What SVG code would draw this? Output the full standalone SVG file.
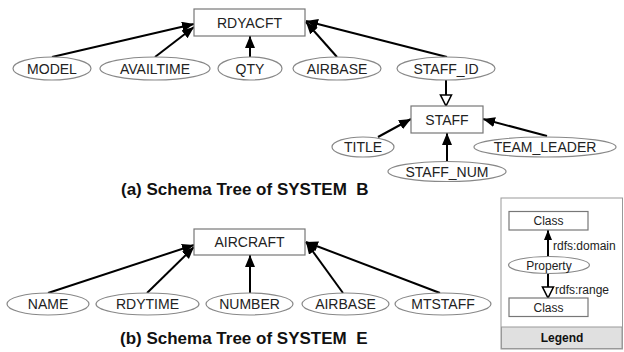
<svg xmlns="http://www.w3.org/2000/svg" width="624" height="352" viewBox="0 0 624 352">
<defs>
<marker id="ah" markerUnits="userSpaceOnUse" markerWidth="13" markerHeight="11" refX="12" refY="5" orient="auto">
<path d="M0,0 L12,5 L0,10 z" fill="#000"/>
</marker>
<marker id="ahs" markerUnits="userSpaceOnUse" markerWidth="11" markerHeight="9" refX="10" refY="4" orient="auto">
<path d="M0,0 L10,4 L0,8 z" fill="#000"/>
</marker>
<marker id="oh" markerUnits="userSpaceOnUse" markerWidth="14" markerHeight="14" refX="12" refY="6.5" orient="auto">
<path d="M1,1 L12,6.5 L1,12 z" fill="#fff" stroke="#000" stroke-width="1.6"/>
</marker>
</defs>
<style>
.box{fill:#fff;stroke:#777;stroke-width:1.2}
.ell{fill:#fff;stroke:#888;stroke-width:1.2}
.t{font-family:"Liberation Sans",Arial,sans-serif;font-size:14px;fill:#222;text-anchor:middle}
.ts{font-family:"Liberation Sans",Arial,sans-serif;font-size:12px;fill:#222;text-anchor:middle}
.tl{font-family:"Liberation Sans",Arial,sans-serif;font-size:12px;fill:#222}
.cap{font-family:"Liberation Sans",Arial,sans-serif;font-size:17px;font-weight:bold;fill:#111}
.e{stroke:#000;stroke-width:2;fill:none;marker-end:url(#ah)}
.es{stroke:#000;stroke-width:2;fill:none;marker-end:url(#ahs)}
.eo{stroke:#000;stroke-width:2;fill:none;marker-end:url(#oh)}
</style>
<g id="legend_frame">
<rect x="501" y="198" width="121.5" height="151" fill="#fff" stroke="#999" stroke-width="1"/>
<rect x="501.5" y="327" width="120.5" height="21.5" fill="#e0e0e0" stroke="#999" stroke-width="1"/>
<text class="ts" x="562" y="342" font-weight="bold" style="fill:#111">Legend</text>
</g>
<g id="connectors">
<line class="e" x1="52" y1="57" x2="194" y2="24"/>
<line class="e" x1="155" y1="57" x2="194" y2="27"/>
<line class="e" x1="250" y1="57" x2="250" y2="36"/>
<line class="e" x1="337" y1="57" x2="306" y2="22"/>
<line class="e" x1="447" y1="57" x2="306" y2="21"/>
<line class="eo" x1="446" y1="80" x2="446" y2="106"/>
<line class="e" x1="378" y1="137" x2="411" y2="119"/>
<line class="e" x1="447" y1="161" x2="447" y2="133"/>
<line class="e" x1="547" y1="136" x2="483" y2="119"/>
<line class="e" x1="48" y1="293" x2="194" y2="245"/>
<line class="e" x1="147" y1="293" x2="194" y2="247"/>
<line class="e" x1="250" y1="293" x2="250" y2="255"/>
<line class="e" x1="343" y1="293" x2="306" y2="242"/>
<line class="e" x1="440" y1="293" x2="306" y2="242"/>
<line class="es" x1="548" y1="257" x2="548" y2="230"/>
<line class="eo" x1="548" y1="273" x2="548" y2="298"/>
</g>
<g id="RDYACFT"><rect class="box" x="194" y="9" width="111" height="27"/><text class="t" x="249.5" y="27.5">RDYACFT</text></g>
<g id="MODEL"><ellipse class="ell" cx="52" cy="68.5" rx="39" ry="11.5"/><text class="t" x="52" y="73.5">MODEL</text></g>
<g id="AVAILTIME"><ellipse class="ell" cx="155" cy="68.5" rx="55" ry="11.5"/><text class="t" x="155" y="73.5">AVAILTIME</text></g>
<g id="QTY"><ellipse class="ell" cx="250" cy="68.5" rx="32" ry="11.5"/><text class="t" x="250" y="73.5">QTY</text></g>
<g id="AIRBASE_B"><ellipse class="ell" cx="337" cy="68.5" rx="44" ry="11.5"/><text class="t" x="337" y="73.5">AIRBASE</text></g>
<g id="STAFF_ID"><ellipse class="ell" cx="446" cy="68.5" rx="49" ry="11.5"/><text class="t" x="446" y="73.5">STAFF_ID</text></g>
<g id="STAFF"><rect class="box" x="411" y="106" width="72" height="27"/><text class="t" x="447" y="124.5">STAFF</text></g>
<g id="TITLE"><ellipse class="ell" cx="363" cy="147" rx="31" ry="10"/><text class="t" x="363" y="152">TITLE</text></g>
<g id="STAFF_NUM"><ellipse class="ell" cx="447" cy="171.5" rx="59" ry="10"/><text class="t" x="447" y="176.5">STAFF_NUM</text></g>
<g id="TEAM_LEADER"><ellipse class="ell" cx="545" cy="147" rx="71" ry="10"/><text class="t" x="545" y="152">TEAM_LEADER</text></g>
<text class="cap" x="121" y="195" xml:space="preserve">(a) Schema Tree of SYSTEM  B</text>
<g id="AIRCRAFT"><rect class="box" x="194" y="229" width="111" height="26"/><text class="t" x="249.5" y="247">AIRCRAFT</text></g>
<g id="NAME"><ellipse class="ell" cx="48" cy="304" rx="41" ry="11"/><text class="t" x="48" y="309">NAME</text></g>
<g id="RDYTIME"><ellipse class="ell" cx="147.5" cy="304" rx="51.5" ry="11"/><text class="t" x="147.5" y="309">RDYTIME</text></g>
<g id="NUMBER"><ellipse class="ell" cx="249.5" cy="304" rx="43.5" ry="11"/><text class="t" x="249.5" y="309">NUMBER</text></g>
<g id="AIRBASE_E"><ellipse class="ell" cx="345.5" cy="304" rx="43.5" ry="11"/><text class="t" x="345.5" y="309">AIRBASE</text></g>
<g id="MTSTAFF"><ellipse class="ell" cx="443" cy="304" rx="48" ry="11"/><text class="t" x="443" y="309">MTSTAFF</text></g>
<text class="cap" x="120" y="344" xml:space="preserve">(b) Schema Tree of SYSTEM  E</text>
<g id="legend_class_top"><rect class="box" x="509" y="211.5" width="79" height="18.5"/><text class="ts" x="548.5" y="225">Class</text></g>
<g id="legend_property"><ellipse class="ell" cx="549" cy="265" rx="40.5" ry="8.5"/><text class="ts" x="549" y="269.5">Property</text></g>
<g id="legend_class_bottom"><rect class="box" x="509" y="298" width="79" height="18.5"/><text class="ts" x="548.5" y="311.5">Class</text></g>
<text class="tl" x="553" y="250">rdfs:domain</text>
<text class="tl" x="555" y="294">rdfs:range</text>
</svg>
